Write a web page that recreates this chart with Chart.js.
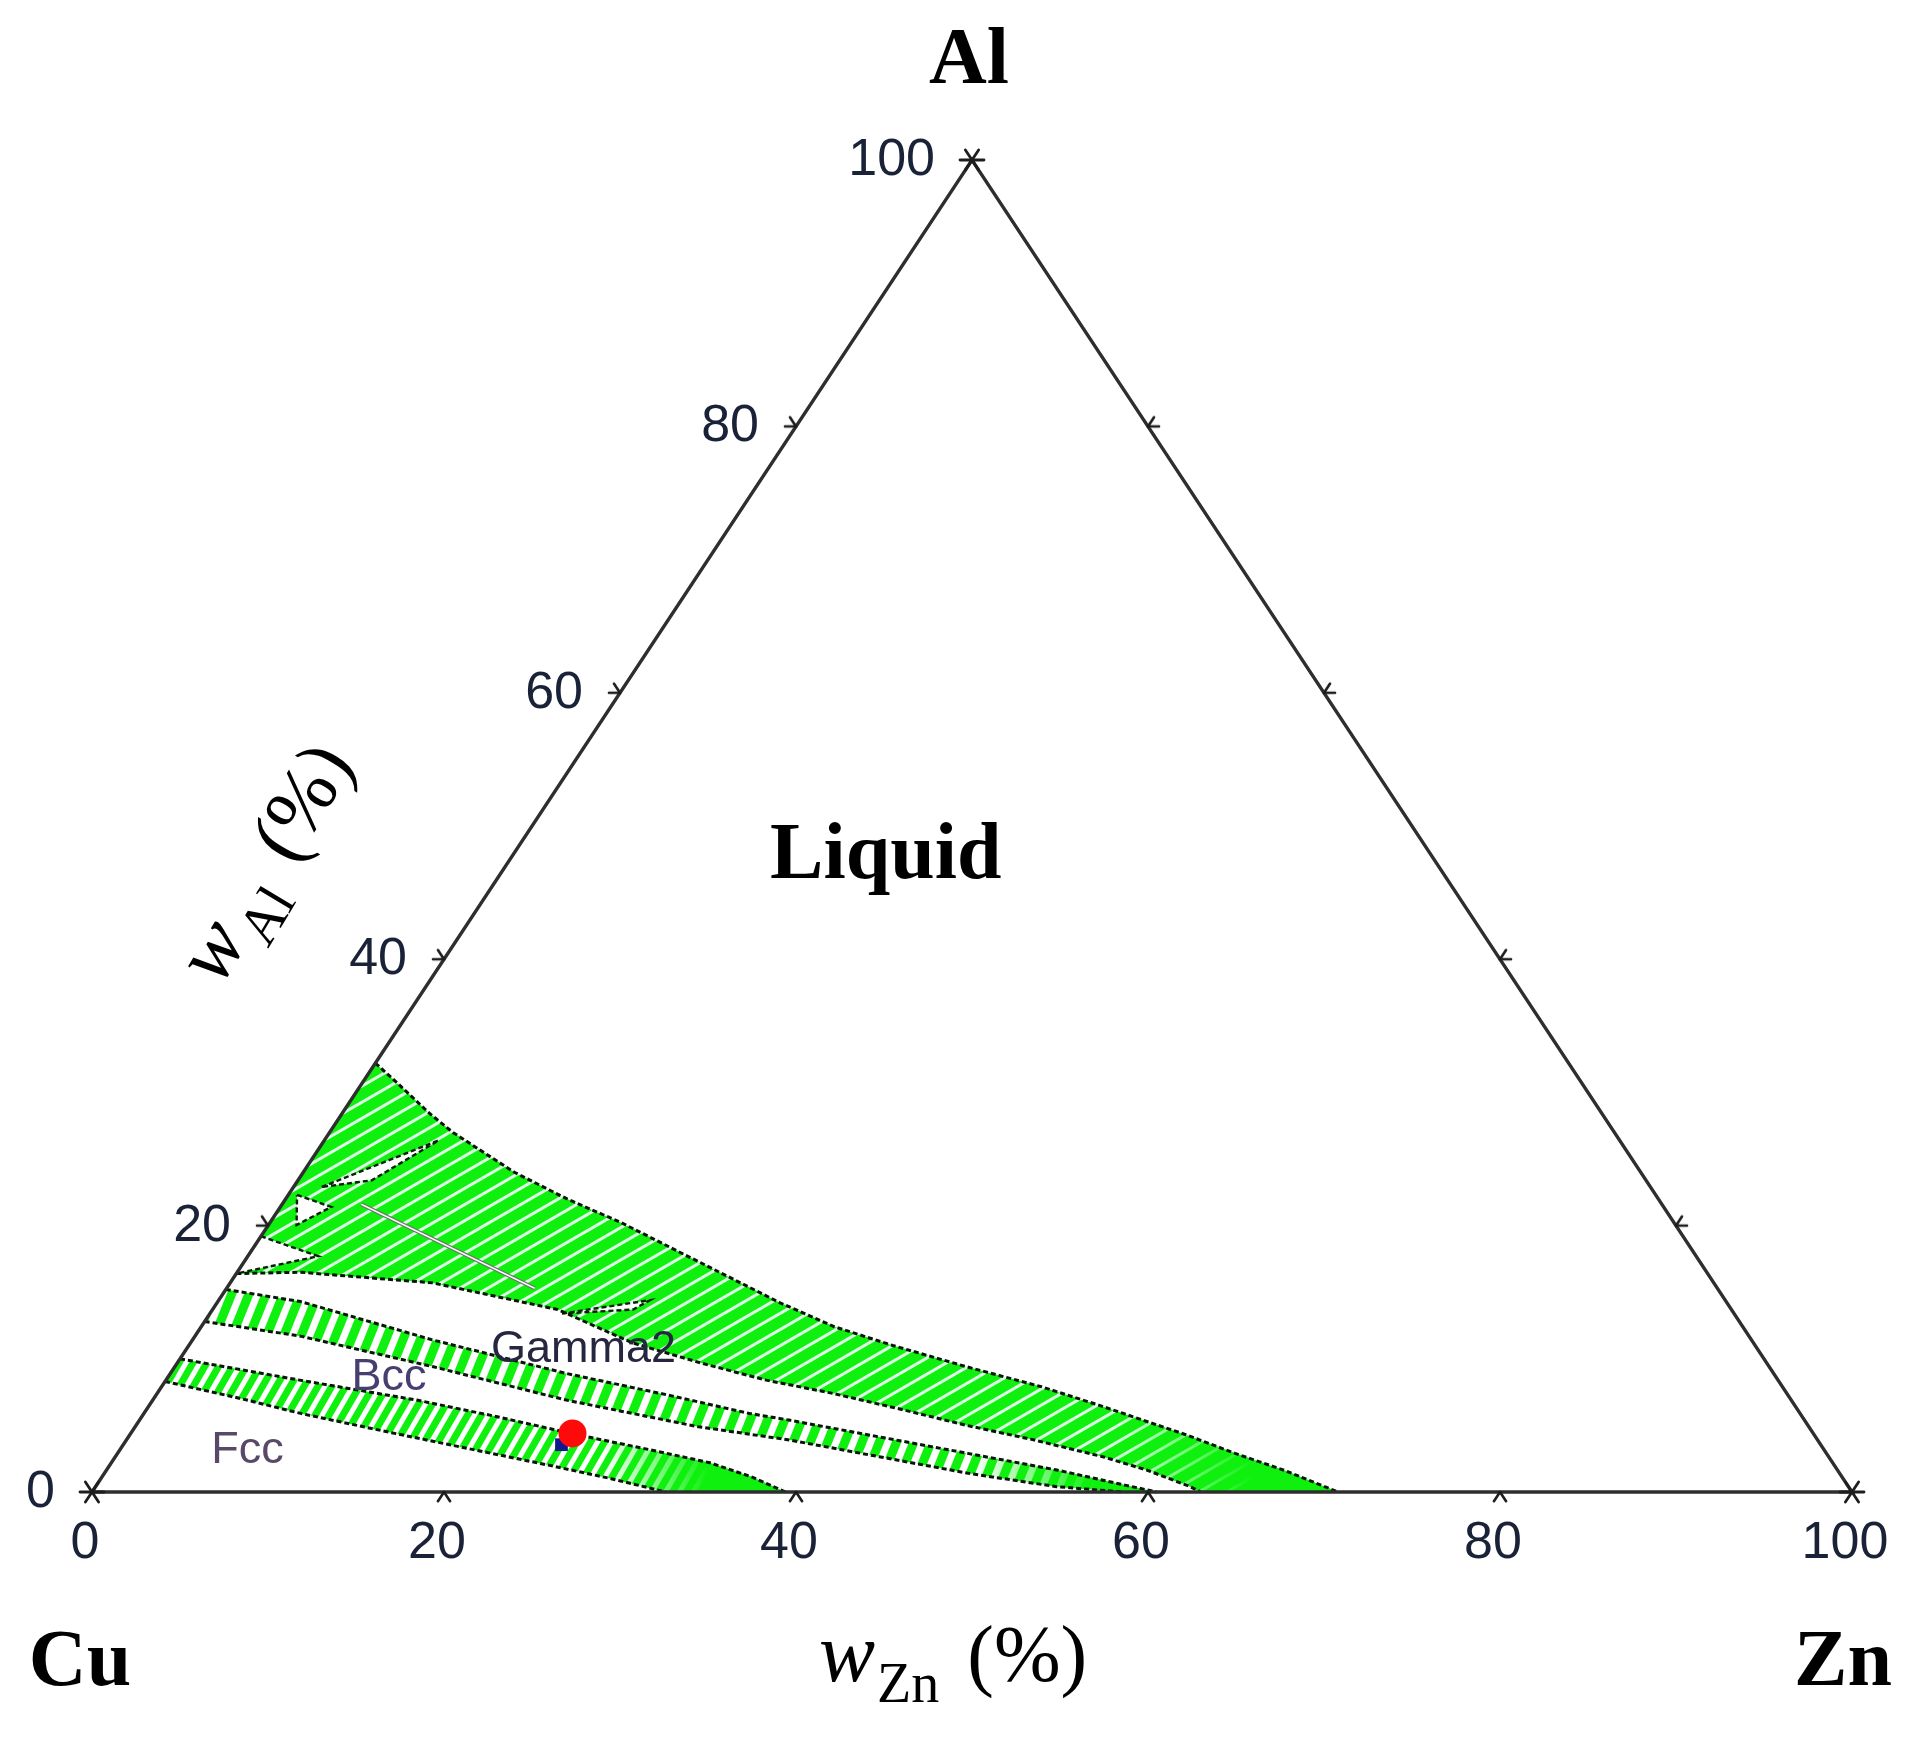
<!DOCTYPE html>
<html><head><meta charset="utf-8">
<style>html,body{margin:0;padding:0;background:#fff;}canvas{display:block;}</style>
<script src="https://cdn.jsdelivr.net/npm/chart.js@4.4.1/dist/chart.umd.min.js"></script>
</head><body>
<canvas id="c" width="1931" height="1760" style="width:1931px;height:1760px"></canvas>
<script>
// ---------- data (mass fractions, %) ----------
const tickValues = [0, 20, 40, 60, 80, 100];
const tickLabels = ['0', '20', '40', '60', '80', '100'];
const cornerNames = ['Cu', 'Zn', 'Al'];

// upper two-phase field (Liquid + solid)
const topUpperZn = [0, 2, 5, 7, 9, 12, 16, 20, 24, 28, 32, 36, 40, 45, 50, 54, 57, 60, 63.5, 67, 70.8];
const topUpperAl = [32.2, 30.7, 28.4, 27.0, 25.8, 24.0, 22.0, 20.2, 18.2, 16.2, 14.2, 12.4, 11.0, 9.4, 7.9, 6.5, 5.4, 4.3, 2.9, 1.6, 0];
const topLowerZn = [0, 3.6, 11.5, 19.6, 25.1, 29.7, 34.1, 38.4, 42.9, 47.2, 51.6, 56.1, 59.1, 62.2, 63];
const topLowerAl = [16.4, 16.5, 15.7, 13.7, 11.2, 9.7, 8.4, 7.4, 6.2, 5.0, 3.9, 2.65, 1.65, 0.4, 0];

// Bcc + Gamma2 band
const bandBTopZn = [0, 4.7, 13.7, 22.5, 29, 34.4, 36.9, 42.6, 48.3, 54.0, 58.5, 60.5];
const bandBTopAl = [15.2, 14.3, 11.4, 8.9, 7.3, 5.9, 5.4, 4.15, 2.9, 1.65, 0.5, 0];
const bandBBotZn = [0, 6, 14.7, 23.5, 32, 37.7, 43.4, 49.1, 54.6, 58.6];
const bandBBotAl = [12.8, 11.7, 9.4, 6.9, 4.9, 3.9, 2.65, 1.4, 0.4, 0];

// Fcc + Bcc band
const bandCTopZn = [0, 7.6, 15, 20, 25, 30, 34, 37, 39.4];
const bandCTopAl = [10.0, 8.4, 6.9, 5.7, 4.4, 3.2, 2.2, 1.1, 0];
const bandCBotZn = [0, 5, 8.9, 15, 20, 25, 29, 32.6];
const bandCBotAl = [8.3, 7.0, 5.9, 4.4, 3.2, 2.0, 1.0, 0];

// single-phase pockets inside the upper field
const pocket1Zn = [0.5, 2.9, 1.6];  const pocket1Al = [22.3, 21.4, 20.05];
const pocket2Zn = [1.6, 6.5, 4.2];  const pocket2Al = [22.9, 26.4, 23.4];
const pocket3Zn = [0, 4.0, 0];      const pocket3Al = [19.2, 17.7, 16.4];
const pocket4Zn = [20.0, 24.5, 23.9]; const pocket4Al = [13.4, 14.4, 13.7];
const innerLineZn = [4.5, 17.5];    const innerLineAl = [21.6, 15.3];

// alloy composition markers
const alloyZn = [25.1];  const alloyAl = [4.4];
const alloy2Zn = [24.9]; const alloy2Al = [3.55];

// phase labels
const phaseNames = ['Liquid', 'Fcc', 'Bcc', 'Gamma2'];
const phaseZn = [22.05, 7.75, 13.05, 23.05];
const phaseAl = [46.1, 2.18, 7.66, 9.76];

// ---------- helpers ----------
function tern(zn, al) { return {x: zn + al / 2, y: al}; }
function pts(zn, al) { return zn.map((z, i) => tern(z, al[i])); }
function band(upZn, upAl, loZn, loAl) {
  const up = pts(upZn, upAl), lo = pts(loZn, loAl).reverse();
  return up.concat(lo, [up[0]]);
}
function closed(zn, al) { const p = pts(zn, al); return p.concat([p[0]]); }

const GREEN = '#0ff00f';
function stripes(period, white, angleDeg, light) {
  const t = document.createElement('canvas'); t.width = period; t.height = 4;
  const g = t.getContext('2d');
  g.fillStyle = GREEN; g.fillRect(0, 0, period, 4);
  g.fillStyle = light; g.fillRect(0, 0, white, 4);
  const p = g.createPattern(t, 'repeat');
  p.setTransform(new DOMMatrix().rotateSelf(90 - angleDeg));
  return p;
}
// solid-green overlay that fades in where tie-lines crowd together
function fadeIn(x0, x1) {
  return function (c) {
    const chart = c.chart; if (!chart.chartArea) return 'rgba(0,0,0,0)';
    const xs = chart.scales.x;
    const g = chart.ctx.createLinearGradient(xs.getPixelForValue(x0), 0, xs.getPixelForValue(x1), 0);
    g.addColorStop(0, 'rgba(15,240,15,0)');
    g.addColorStop(1, 'rgba(15,240,15,1)');
    return g;
  };
}
const EL = [0.5512, -0.8343];   // unit vector along Cu->Al edge (screen)
const ER = [-0.5512, -0.8343];  // unit vector along Zn->Al edge (screen)
function tickMark(dirs, len, lw) {
  const s = 2 * len + 8; const c = document.createElement('canvas'); c.width = s; c.height = s;
  const g = c.getContext('2d'); g.strokeStyle = '#1e1e1e'; g.lineWidth = lw; g.lineCap = 'round';
  const m = s / 2;
  dirs.forEach(([dx, dy]) => { g.beginPath(); g.moveTo(m, m); g.lineTo(m + dx * len, m + dy * len); g.stroke(); });
  return c;
}
const tickBottom = tickMark([[-EL[0], -EL[1]], [-ER[0], -ER[1]]], 11, 2.6);
const tickLeft = tickMark([[-1, 0], ER], 11, 2.6);
const tickRight = tickMark([[1, 0], EL], 11, 2.6);
const tickCorner = tickMark([[1, 0], [-1, 0], EL, [-EL[0], -EL[1]], ER, [-ER[0], -ER[1]]], 12, 2.8);

const inner = tickValues.slice(1, -1);
const bottomTicks = inner.map(v => tern(v, 0));
const leftTicks = inner.map(v => tern(0, v));
const rightTicks = inner.map(v => tern(100 - v, v));
const corners = [tern(0, 0), tern(100, 0), tern(0, 100)];

const edgeStyle = {borderColor: '#071507', borderWidth: 3, borderDash: [5, 3], fill: false, pointRadius: 0, order: 10};
function edge(zn, al) { return Object.assign({data: pts(zn, al)}, edgeStyle); }
function area(data, bg, order) {
  return {data, backgroundColor: bg, fill: 'shape', borderWidth: 0, borderColor: 'rgba(0,0,0,0)', pointRadius: 0, order};
}
function pocket(zn, al) {
  return {data: closed(zn, al), backgroundColor: '#ffffff', fill: 'shape', borderColor: '#0b1f0b',
          borderWidth: 2.4, borderDash: [5, 3], pointRadius: 0, order: 15};
}

const topPoly = band(topUpperZn, topUpperAl, topLowerZn, topLowerAl);
const bandBPoly = band(bandBTopZn, bandBTopAl, bandBBotZn, bandBBotAl);
const bandCPoly = band(bandCTopZn, bandCTopAl, bandCBotZn, bandCBotAl);

const datasets = [
  area(topPoly, stripes(14, 3, 30, '#dcffe6'), 22),
  area(topPoly, fadeIn(58, 66), 21),
  area(bandBPoly, stripes(16, 7, 68, '#ffffff'), 20),
  area(bandBPoly, fadeIn(50, 57), 19),
  area(bandCPoly, stripes(12, 5, 60, '#ffffff'), 18),
  area(bandCPoly, fadeIn(29, 35), 17),
  pocket(pocket1Zn, pocket1Al), pocket(pocket2Zn, pocket2Al), pocket(pocket3Zn, pocket3Al), pocket(pocket4Zn, pocket4Al),
  edge(topUpperZn, topUpperAl), edge(topLowerZn, topLowerAl),
  edge(bandBTopZn, bandBTopAl), edge(bandBBotZn, bandBBotAl),
  edge(bandCTopZn, bandCTopAl), edge(bandCBotZn, bandCBotAl),
  {data: pts(innerLineZn, innerLineAl), borderColor: '#6e6e6e', borderWidth: 4, fill: false, pointRadius: 0, order: 9},
  {data: pts(innerLineZn, innerLineAl), borderColor: '#f4fff4', borderWidth: 1.5, fill: false, pointRadius: 0, order: 8},
  {data: [corners[0], corners[1], corners[2], corners[0]], borderColor: '#2e2e2e', borderWidth: 3.4, fill: false, pointRadius: 0, order: 5},
  {data: bottomTicks, showLine: false, pointStyle: tickBottom, pointRadius: 10, order: 3},
  {data: leftTicks, showLine: false, pointStyle: tickLeft, pointRadius: 10, order: 3},
  {data: rightTicks, showLine: false, pointStyle: tickRight, pointRadius: 10, order: 3},
  {data: corners, showLine: false, pointStyle: tickCorner, pointRadius: 10, order: 3},
  {data: pts(alloy2Zn, alloy2Al), showLine: false, pointStyle: 'rect', pointRadius: 9, backgroundColor: '#101a8c', borderWidth: 0, order: 2},
  {data: pts(alloyZn, alloyAl), showLine: false, pointStyle: 'circle', pointRadius: 14, backgroundColor: '#ff0a0a', borderWidth: 0, order: 1}
];
datasets.forEach(d => { d.clip = false; d.tension = 0; });

const textPlugin = {
  id: 'texts',
  afterDatasetsDraw(chart) {
    const ctx = chart.ctx, xs = chart.scales.x, ys = chart.scales.y;
    const P = (zn, al) => { const t = tern(zn, al); return [xs.getPixelForValue(t.x), ys.getPixelForValue(t.y)]; };
    ctx.save();
    // tick labels
    ctx.fillStyle = '#1a2238';
    ctx.font = '52px "Liberation Sans", Arial, sans-serif';
    ctx.textBaseline = 'alphabetic';
    ctx.textAlign = 'center';
    tickValues.forEach((v, i) => { const [x, y] = P(v, 0); ctx.fillText(tickLabels[i], x - 7, y + 66); });
    ctx.textAlign = 'right';
    tickValues.forEach((v, i) => { const [x, y] = P(0, v); ctx.fillText(tickLabels[i], x - 37, y + 15); });

    // corner names
    ctx.fillStyle = '#000';
    ctx.font = 'bold 80px "Liberation Serif", "Times New Roman", serif';
    ctx.textAlign = 'center';
    const [cx0, cy0] = P(0, 0), [zx0, zy0] = P(100, 0), [ax0, ay0] = P(0, 100);
    ctx.fillText(cornerNames[0], cx0 - 12, cy0 + 193);
    ctx.fillText(cornerNames[1], zx0 - 9, zy0 + 193);
    ctx.fillText(cornerNames[2], ax0 - 3, ay0 - 77);

    // phase labels
    const [lx, ly] = P(phaseZn[0], phaseAl[0]);
    ctx.fillText(phaseNames[0], lx, ly);
    ctx.font = '45px "Liberation Sans", Arial, sans-serif';
    const phaseColors = [null, '#5a4868', '#463f70', '#262640'];
    for (let i = 1; i < phaseNames.length; i++) {
      const [px, py] = P(phaseZn[i], phaseAl[i]);
      ctx.fillStyle = phaseColors[i];
      ctx.fillText(phaseNames[i], px, py);
    }

    // axis titles
    function title(sub) {
      ctx.textAlign = 'left';
      ctx.font = 'italic 84px "Liberation Serif", "Times New Roman", serif';
      ctx.fillText('w', 0, 0);
      const ww = ctx.measureText('w').width;
      ctx.font = '56px "Liberation Serif", "Times New Roman", serif';
      ctx.fillText(sub, ww + 2, 21);
      const sw = ctx.measureText(sub).width;
      ctx.font = '80px "Liberation Serif", "Times New Roman", serif';
      ctx.fillText('(%)', ww + 2 + sw + 28, 0);
    }
    ctx.fillStyle = '#000';
    const [mx, my] = P(50, 0);
    ctx.save(); ctx.translate(mx - 153, my + 189); title('Zn'); ctx.restore();
    ctx.save(); ctx.translate(cx0 + 128, cy0 - 504); ctx.rotate(-59 * Math.PI / 180); title('Al'); ctx.restore();
    ctx.restore();
  }
};

new Chart(document.getElementById('c'), {
  type: 'line',
  data: {datasets},
  options: {
    responsive: false, animation: false, events: [],
    layout: {padding: {left: 92, right: 79, top: 160, bottom: 268}},
    scales: {
      x: {type: 'linear', min: 0, max: 100, display: false},
      y: {type: 'linear', min: 0, max: 100, display: false}
    },
    plugins: {legend: {display: false}, tooltip: {enabled: false}, title: {display: false}}
  },
  plugins: [textPlugin]
});
</script>
</body></html>
